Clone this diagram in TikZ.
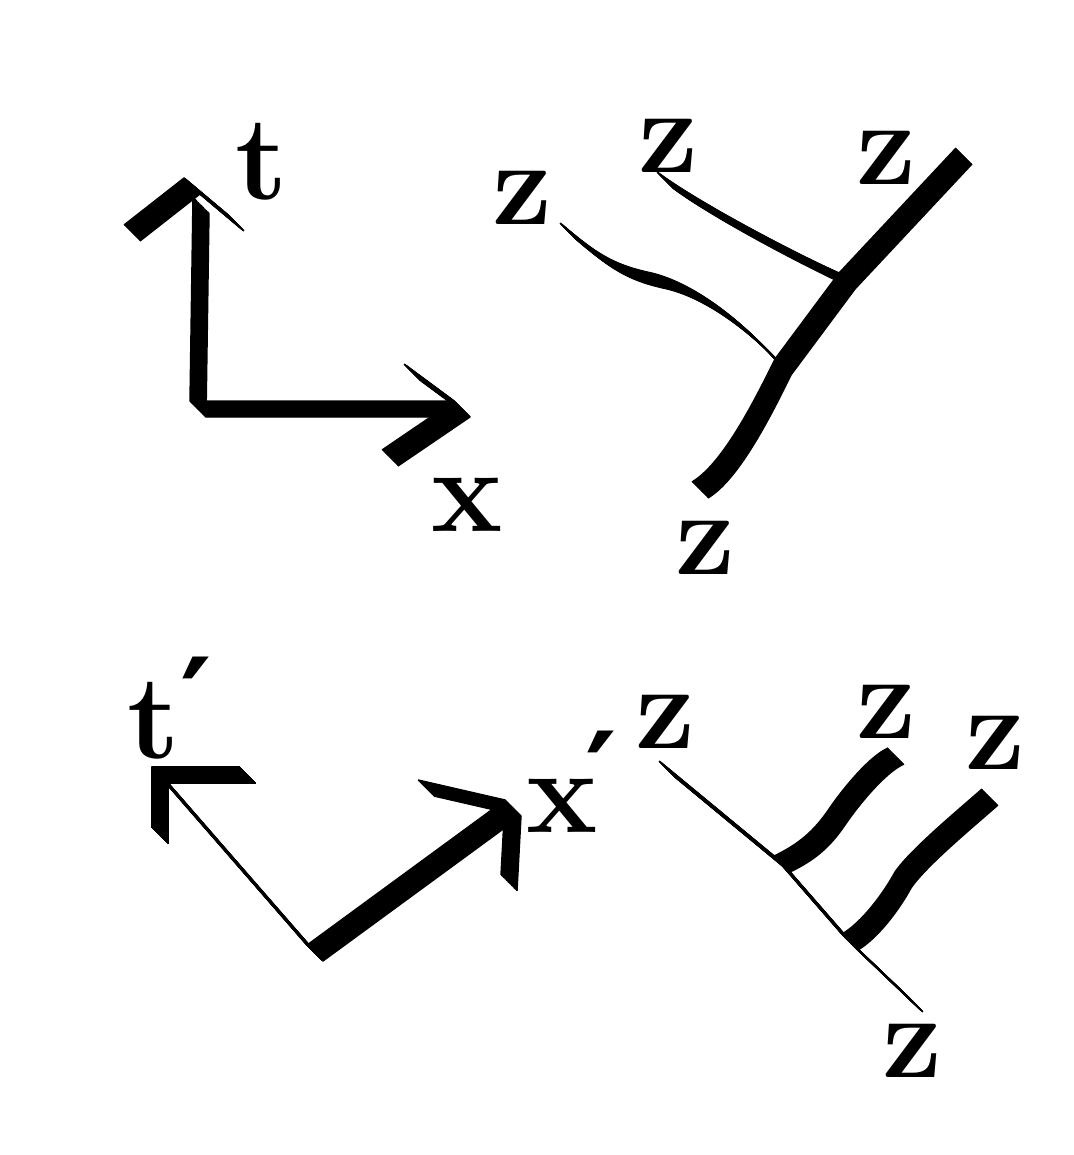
\documentclass[tikz,border=0pt]{standalone}
\usepackage{fontspec}
\newfontfamily\primefont{DejaVu Sans}
\begin{document}
\begin{tikzpicture}[x=1pt,y=-1pt,
  pen/.style={line width=1.6pt, line cap=butt, line join=round},
  nib/.style={shift={(\s*0.72,\s*0.72)}},
  lbl/.style={font=\fontsize{120}{120}\selectfont\bfseries, inner sep=0pt}]
\def\nibs{-11,-10,...,11}
\useasboundingbox[fill=white] (0,0) rectangle (1073,1155);

% ---------- top-left axes ----------
\coordinate (tlBL) at (132,233);
\coordinate (tlTip) at (192,186);
\coordinate (tlBR) at (236,223);
\coordinate (tlTop) at (201,205);
\coordinate (tlO) at (198,409);
\coordinate (tlX) at (462,409);
\coordinate (tlXa) at (412,372);
\coordinate (tlXb) at (390,458);
\foreach \s in \nibs {
  \draw[pen] ([nib]tlBL) -- ([nib]tlTip) -- ([nib]tlBR);
  \draw[pen] ([nib]tlTop) -- ([nib]tlO) -- ([nib]tlX);
  \draw[pen] ([nib]tlXa) -- ([nib]tlX) -- ([nib]tlXb);
}
\node[lbl] (lt) at (262,162) {t};
\node[lbl] (lx) at (467,505) {x};

% ---------- top-right tree ----------
\coordinate (trB) at (700,490);
\coordinate (trJ1) at (783,367);
\coordinate (trJ2) at (847,281);
\coordinate (trT) at (964,156);
\coordinate (p1a) at (568,231);
\coordinate (p1m) at (655,280);
\coordinate (p2a) at (665,180);
\foreach \s in \nibs {
  \draw[pen] ([nib]trB) .. controls +(30,-18) and +(-22,45) .. ([nib]trJ1)
     -- ([nib]trJ2) -- ([nib]trT);
  \draw[pen] ([nib]p1a) .. controls +(35,30) and +(-35,-8) .. ([nib]p1m)
     .. controls +(40,8) and +(-40,-45) .. ([nib]trJ1);
  \draw[pen] ([nib]p2a) .. controls +(40,30) and +(-45,-20) .. ([nib]trJ2);
}
\node[lbl] (z1) at (522,198) {z};
\node[lbl] (z2) at (668,146) {z};
\node[lbl] (z3) at (886,158) {z};
\node[lbl] (z4) at (705,548) {z};

% ---------- bottom-left rotated axes ----------
\coordinate (blO) at (315,953);
\coordinate (blX) at (513,808);
\coordinate (blXa) at (426,788);
\coordinate (blXb) at (509,883);
\coordinate (blT) at (160,775);
\coordinate (blTa) at (248,775);
\coordinate (blTb) at (160,836);
\foreach \s in \nibs {
  \draw[pen] ([nib]blT) -- ([nib]blO) -- ([nib]blX);
  \draw[pen] ([nib]blXa) -- ([nib]blX) -- ([nib]blXb);
  \draw[pen] ([nib]blTa) -- ([nib]blT) -- ([nib]blTb);
}
\node[lbl] (ltp) at (170,708) {t{\primefont\fontsize{120}{120}\selectfont\raisebox{0.12em}{′}}};
\node[lbl] (lxp) at (556,782) {x\kern-12pt\makebox[0pt][l]{\primefont\fontsize{120}{120}\selectfont\raisebox{0.12em}{′}}};

% ---------- bottom-right tree ----------
\coordinate (brS) at (667,769);
\coordinate (brJ1) at (782,864);
\coordinate (brJ2) at (850,942);
\coordinate (brE) at (915,1004);
\coordinate (br1m) at (837,817);
\coordinate (br1T) at (896,756);
\coordinate (br2m) at (903,880);
\coordinate (br2T) at (990,797);
\foreach \s in \nibs {
  \draw[pen] ([nib]brS) -- ([nib]brJ1) -- ([nib]brJ2) -- ([nib]brE);
  \draw[pen] ([nib]brJ1) .. controls +(25,-12) and +(-15,22) .. ([nib]br1m)
     .. controls +(15,-22) and +(-18,8) .. ([nib]br1T);
  \draw[pen] ([nib]brJ2) .. controls +(20,-12) and +(-12,22) .. ([nib]br2m)
     .. controls +(15,-22) and +(-25,22) .. ([nib]br2T);
}
\node[lbl] (z5) at (665,722) {z};
\node[lbl] (z6) at (886,712) {z};
\node[lbl] (z7) at (995,743) {z};
\node[lbl] (z8) at (912,1051) {z};
\end{tikzpicture}
\end{document}
